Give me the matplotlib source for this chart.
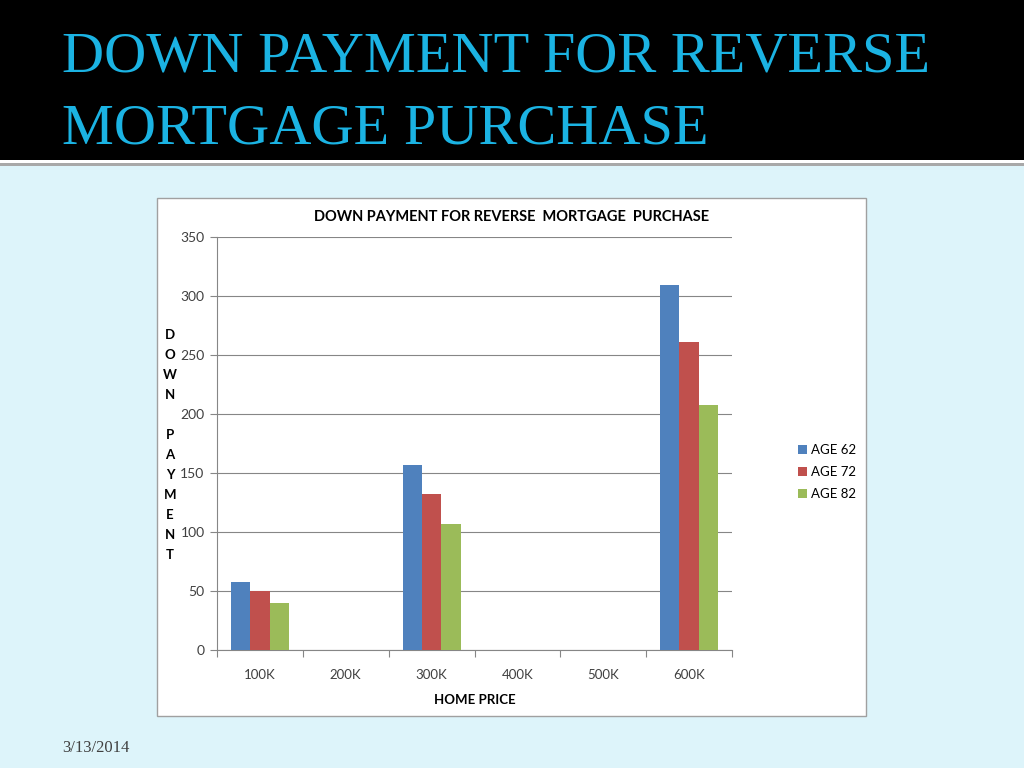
import numpy as np
import matplotlib.pyplot as plt
from matplotlib.patches import Rectangle

# data
prices = ['100K', '200K', '300K', '400K', '500K', '600K']
age62 = [58, 0, 157, 0, 0, 309]
age72 = [50, 0, 132, 0, 0, 261]
age82 = [40, 0, 107, 0, 0, 208]
series_names = ['AGE 62', 'AGE 72', 'AGE 82']
colors = ['#4F81BD', '#C0504D', '#9BBB59']

W, H = 1024, 768
fig = plt.figure(figsize=(W / 100, H / 100), dpi=100)
fig.patch.set_facecolor('#DDF4FA')

def px_rect(x0, y0, x1, y1, **kw):
    # rectangle given in pixel coords (origin top-left)
    r = Rectangle((x0 / W, 1 - y1 / H), (x1 - x0) / W, (y1 - y0) / H,
                  transform=fig.transFigure, **kw)
    fig.add_artist(r)
    return r

# slide banner
px_rect(0, 0, W, 160, facecolor='black', edgecolor='none', zorder=0)
px_rect(0, 160, W, 163, facecolor='white', edgecolor='none', zorder=0)
px_rect(0, 163, W, 166, facecolor='#A8A8A8', edgecolor='none', zorder=0)

for line, base in [('DOWN PAYMENT FOR REVERSE', 72), ('MORTGAGE PURCHASE', 143)]:
    fig.text(62 / W, 1 - base / H, line, family='Liberation Serif',
             fontsize=42, color='#1BB3E3', ha='left', va='baseline')
fig.text(62 / W, 1 - 748 / H, '3/13/2014', family='Liberation Serif',
         fontsize=12, color='#404040', ha='left', va='center')

# white chart panel
px_rect(157, 198, 866, 716, facecolor='white', edgecolor='#A0A0A0',
        linewidth=1, zorder=0)

plt.rcParams['font.family'] = ['Lato', 'DejaVu Sans']

ax = fig.add_axes([217 / W, 1 - 650 / H, (732 - 217) / W, (650 - 237) / H])
ax.set_facecolor('white')

x = np.arange(len(prices))
bw = 0.225
for k, (vals, name) in enumerate(zip([age62, age72, age82], series_names)):
    ax.bar(x + (k - 1) * bw, vals, width=bw, color=colors[k], label=name,
           zorder=3, linewidth=0)

ax.set_xlim(-0.5, len(prices) - 0.5)
ax.set_ylim(0, 350)
ax.set_yticks(np.arange(0, 351, 50))
ax.set_xticks(x)
ax.set_xticklabels(prices)
ax.set_xticks(np.arange(-0.5, len(prices), 1.0), minor=True)
ax.tick_params(axis='x', which='major', length=0, pad=14, labelsize=9.5,
               labelcolor='#404040')
ax.tick_params(axis='x', which='minor', length=5, color='#868686', width=0.8)
ax.tick_params(axis='y', length=5, color='#868686', width=0.8, labelsize=10,
               labelcolor='#404040', pad=4)
ax.yaxis.grid(True, color='#868686', linewidth=0.8, zorder=0)
ax.set_axisbelow(True)
for s in ['top', 'right']:
    ax.spines[s].set_visible(False)
for s in ['left', 'bottom']:
    ax.spines[s].set_color('#868686')
    ax.spines[s].set_linewidth(0.8)

ax.set_xlabel('HOME PRICE', fontsize=9.5, fontweight='bold', labelpad=9)
fig.text(512 / W, 1 - 217 / H, 'DOWN PAYMENT FOR REVERSE  MORTGAGE  PURCHASE',
         fontsize=10.5, fontweight='bold', ha='center', va='center')
fig.text(170 / W, 1 - 445 / H, '\n'.join('DOWN PAYMENT'), fontsize=9.5,
         fontweight='bold', ha='center', va='center', linespacing=1.8)

ax.legend(loc='center left', bbox_to_anchor=(798 / W, 1 - 472 / H),
          bbox_transform=fig.transFigure, frameon=False, fontsize=9.5,
          handlelength=0.7, handleheight=0.7, handletextpad=0.3,
          labelspacing=0.75, borderaxespad=0, borderpad=0)

fig.savefig('out.png', dpi=100, facecolor=fig.get_facecolor())
